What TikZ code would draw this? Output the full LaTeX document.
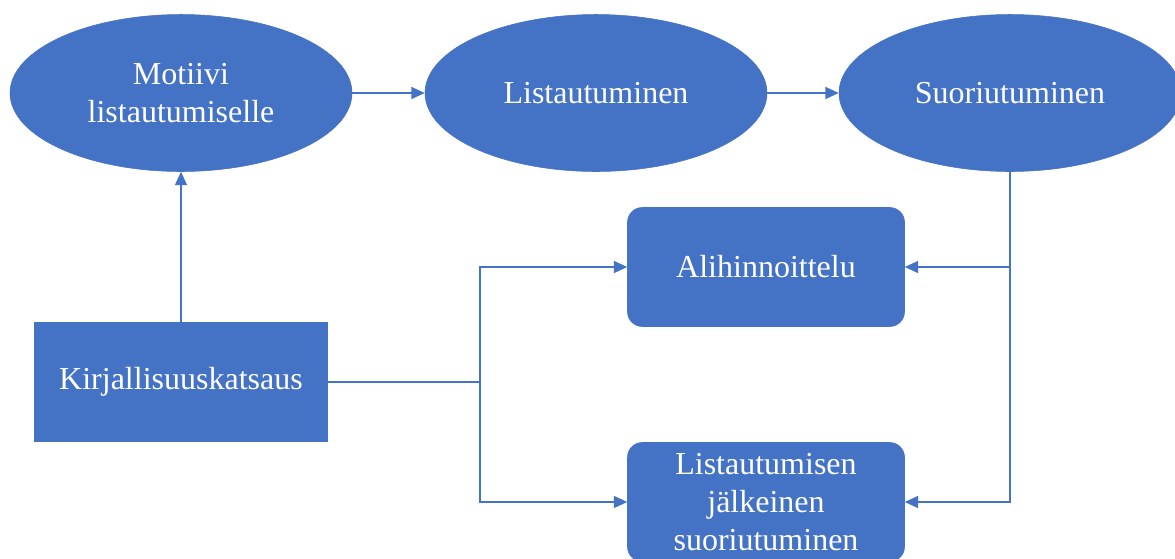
\documentclass[tikz,border=0pt]{standalone}
\usepackage{fontspec}
\setmainfont{Liberation Serif}
\usetikzlibrary{
    shapes.geometric,% for the ellipses
    arrows.meta%
}
\definecolor{office}{HTML}{4472C4}

\tikzset{
    oval/.style={ellipse, fill=office, draw=office, text=white, align=center,
        minimum width=256.5pt, minimum height=117.75pt, inner sep=0pt},
    sqbox/.style={rectangle, fill=office, draw=office, text=white, align=center,
        minimum width=219.75pt, minimum height=89.25pt},
    rbox/.style={rectangle, rounded corners=11pt, fill=office, draw=office,
        text=white, align=center, minimum width=207.75pt, minimum height=89.25pt},
    arr/.style={draw=office, line width=1pt, -{Triangle[length=10pt,width=9pt]}},
    ln/.style={draw=office, line width=1pt}
}

\begin{document}
\begin{tikzpicture}[x=0.75pt, y=-0.75pt, font=\fontsize{24}{28.5}\selectfont]
    \useasboundingbox (0,0) rectangle (1175,558);

    \node[oval] (motiivi) at (181,93) {Motiivi\\listautumiselle};
    \node[oval] (listaut) at (596,93) {Listautuminen};
    \node[oval] (suoriut) at (1010,93) {Suoriutuminen};

    \node[sqbox] (kirj) at (181,382) {Kirjallisuuskatsaus};

    \node[rbox] (alihinn) at (766,267) {Alihinnoittelu};
    \node[rbox] (jalk) at (766,502) {Listautumisen\\j\"alkeinen\\suoriutuminen};

    \draw[arr] (motiivi) -- (listaut);
    \draw[arr] (listaut) -- (suoriut);
    \draw[arr] (kirj) -- (motiivi);

    \coordinate (split) at (480,382); %%% branch from the review
    \draw[ln] (kirj.east) -- (split);
    \draw[arr] (split) |- (alihinn.west);
    \draw[arr] (split) |- (jalk.west);

    %%% performance down to both results
    \draw[arr] (suoriut.south) |- (alihinn.east);
    \draw[arr] (suoriut.south) |- (jalk.east);
\end{tikzpicture}
\end{document}
